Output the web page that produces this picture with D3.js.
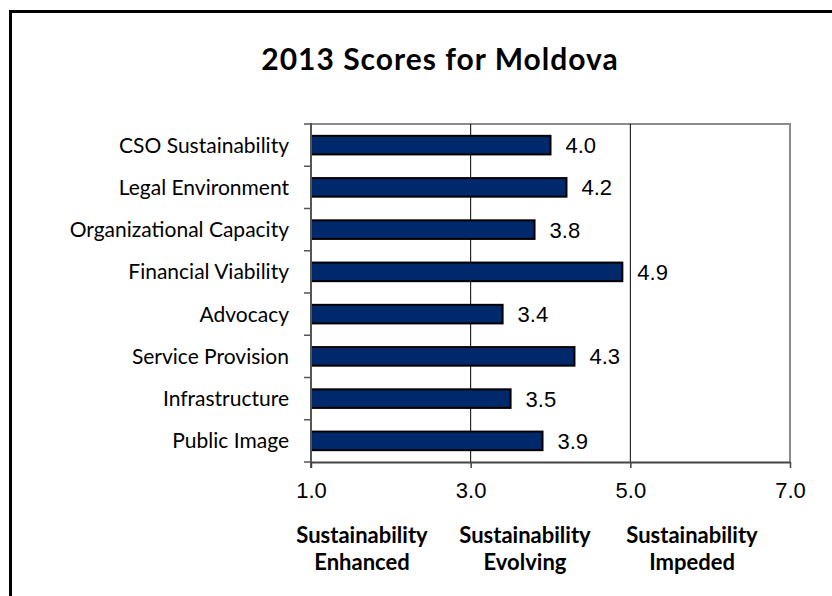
<!DOCTYPE html>
<html>
<head>
<meta charset="utf-8">
<script src="https://cdn.jsdelivr.net/npm/d3@7"></script>
<style>
  body { margin: 0; background: #fff; }
  svg { display: block; }
</style>
</head>
<body>
<div id="chart"></div>
<script>
const categories = ['CSO Sustainability', 'Legal Environment', 'Organizational Capacity', 'Financial Viability',
  'Advocacy', 'Service Provision', 'Infrastructure', 'Public Image'];
const scores = [4.0, 4.2, 3.8, 4.9, 3.4, 4.3, 3.5, 3.9];
const tickValues = [1, 3, 5, 7];
const zoneLabels = [['Sustainability', 'Enhanced'], ['Sustainability', 'Evolving'], ['Sustainability', 'Impeded']];

const width = 832, height = 596;
const plotL = 311, plotR = 790, plotT = 124, plotB = 462;
const numFont = "'Liberation Sans', Arial, sans-serif";

const svg = d3.select("#chart").append("svg")
  .attr("width", width)
  .attr("height", height);

// outer frame (runs off right and bottom)
svg.append("rect")
  .attr("x", 10.5).attr("y", 11.5)
  .attr("width", 900).attr("height", 700)
  .attr("fill", "none").attr("stroke", "#000").attr("stroke-width", 3);

svg.append("text")
  .attr("x", 440).attr("y", 70)
  .attr("text-anchor", "middle")
  .attr("font-family", "Lato, sans-serif")
  .attr("font-weight", "bold")
  .attr("font-size", 30)
  .attr("letter-spacing", 1)
  .text("2013 Scores for Moldova");

const x = d3.scaleLinear().domain([1, 7]).range([plotL, plotR]);
const y = d3.scaleBand().domain(categories).range([plotT, plotB]).paddingInner(0.56).paddingOuter(0.28);

// plot frame top/right
svg.append("path")
  .attr("d", `M${plotL},${plotT}H${plotR}V${plotB}`)
  .attr("fill", "none").attr("stroke", "#8c8c8c").attr("stroke-width", 2);

// gridlines
svg.append("g").selectAll("line")
  .data([3, 5])
  .enter().append("line")
  .attr("x1", d => x(d)).attr("x2", d => x(d))
  .attr("y1", plotT).attr("y2", plotB)
  .attr("stroke", "#000").attr("stroke-width", 1);

// bars
svg.append("g").selectAll("rect")
  .data(scores)
  .enter().append("rect")
  .attr("x", x(1))
  .attr("y", (d, i) => y(categories[i]))
  .attr("width", d => x(d) - x(1))
  .attr("height", y.bandwidth())
  .attr("fill", "#00296b")
  .attr("stroke", "#000").attr("stroke-width", 2);

// value labels
svg.append("g").selectAll("text")
  .data(scores)
  .enter().append("text")
  .attr("x", d => x(d) + 15)
  .attr("y", (d, i) => y(categories[i]) + y.bandwidth() / 2)
  .attr("dy", "0.36em")
  .attr("font-family", numFont)
  .attr("font-size", 22)
  .text(d => d.toFixed(1));

// y axis: tick marks at band boundaries
const step = (plotB - plotT) / categories.length;
const yAxis = svg.append("g");
yAxis.append("line")
  .attr("x1", plotL).attr("x2", plotL).attr("y1", plotT - 1).attr("y2", plotB + 6)
  .attr("stroke", "#555").attr("stroke-width", 2);
yAxis.selectAll(".tk")
  .data(d3.range(categories.length + 1))
  .enter().append("line")
  .attr("x1", plotL - 7).attr("x2", plotL)
  .attr("y1", i => plotT + i * step).attr("y2", i => plotT + i * step)
  .attr("stroke", "#555").attr("stroke-width", 1.5);
yAxis.selectAll("text")
  .data(categories)
  .enter().append("text")
  .attr("x", 289)
  .attr("y", d => y(d) + y.bandwidth() / 2)
  .attr("dy", "0.36em")
  .attr("text-anchor", "end")
  .attr("font-family", "Lato, sans-serif")
  .attr("font-size", 21)
  .text(d => d);

// x axis
const xAxis = svg.append("g")
  .attr("transform", `translate(0,${plotB})`)
  .call(d3.axisBottom(x).tickValues(tickValues).tickFormat(d3.format(".1f")).tickSize(6).tickSizeOuter(0));
xAxis.select(".domain").attr("stroke", "#444").attr("stroke-width", 2);
xAxis.selectAll(".tick line").attr("stroke", "#444").attr("stroke-width", 1.5);
xAxis.selectAll(".tick text")
  .attr("y", 36)
  .attr("dy", 0)
  .attr("fill", "#000")
  .attr("font-family", numFont)
  .attr("font-size", 22);

// zone labels
const zoneX = [362, 525, 692];
const zones = svg.append("g").selectAll("text")
  .data(zoneLabels)
  .enter().append("text")
  .attr("x", (d, i) => zoneX[i])
  .attr("y", 543)
  .attr("text-anchor", "middle")
  .attr("font-family", "Lato, sans-serif")
  .attr("font-weight", "bold")
  .attr("font-size", 22);
zones.append("tspan").attr("x", (d, i) => zoneX[i]).text(d => d[0]);
zones.append("tspan").attr("x", (d, i) => zoneX[i]).attr("dy", 27).text(d => d[1]);
</script>
</body>
</html>
